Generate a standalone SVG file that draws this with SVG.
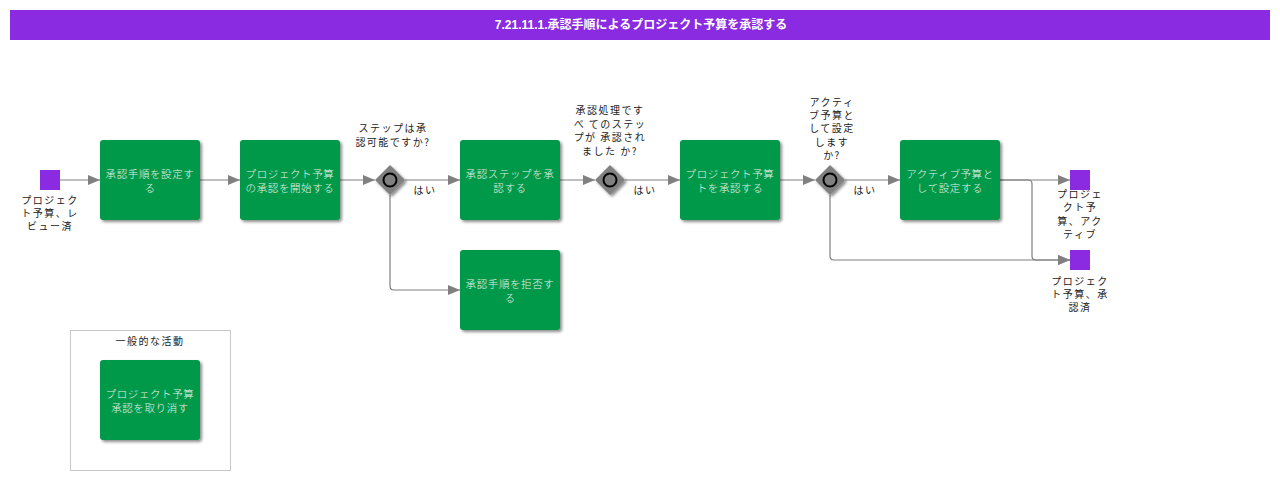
<svg xmlns="http://www.w3.org/2000/svg" width="1280" height="480" viewBox="0 0 1280 480">
<defs>
<filter id="sh" x="-20%" y="-20%" width="140%" height="140%">
<feGaussianBlur in="SourceAlpha" stdDeviation="1.5"/>
<feOffset dx="2" dy="2" result="b"/>
<feComponentTransfer><feFuncA type="linear" slope="0.45"/></feComponentTransfer>
<feMerge><feMergeNode/><feMergeNode in="SourceGraphic"/></feMerge>
</filter>
<marker id="arr" markerWidth="12" markerHeight="10" refX="12" refY="5" orient="auto" markerUnits="userSpaceOnUse">
<path d="M0,0 L12,5 L0,10 Z" fill="#808080"/>
</marker>
</defs>
<style>
.task rect{fill:#00984a;filter:url(#sh)}
.task text{fill:#e6f2e6;font-family:"Noto Sans CJK JP","Noto Sans",sans-serif;font-size:10.5px;font-weight:300;text-anchor:middle;letter-spacing:0.6px}
.gw path{fill:#808080;filter:url(#sh)}
.gw circle{fill:none;stroke:#000;stroke-width:2}
.lbl{fill:#222;font-family:"Noto Sans CJK JP","Noto Sans",sans-serif;font-size:10px;text-anchor:middle;letter-spacing:1.5px}
.ev rect{fill:#8a2be2}
.conn path{fill:none;stroke:#808080;stroke-width:1.2}
</style>
<g id="title">
<rect x="10" y="10" width="1260" height="30" fill="#8a2be2"/>
<text x="641" y="29" fill="#fff" font-family="Liberation Sans,'Noto Sans CJK JP',sans-serif" font-size="12" font-weight="bold" text-anchor="middle">7.21.11.1.承認手順によるプロジェクト予算を承認する</text>
</g>
<g id="connectors" class="conn">
<path d="M60,180 H100" marker-end="url(#arr)"/>
<path d="M200,180 H240" marker-end="url(#arr)"/>
<path d="M340,180 H375" marker-end="url(#arr)"/>
<path d="M405,180 H460" marker-end="url(#arr)"/>
<path d="M390,195 V286 Q390,290 394,290 H460" marker-end="url(#arr)"/>
<path d="M560,180 H595" marker-end="url(#arr)"/>
<path d="M625,180 H680" marker-end="url(#arr)"/>
<path d="M780,180 H815" marker-end="url(#arr)"/>
<path d="M845,180 H900" marker-end="url(#arr)"/>
<path d="M830,195 V256 Q830,260 834,260 H1070" marker-end="url(#arr)"/>
<path d="M1000,180 H1070" marker-end="url(#arr)"/>
<path d="M1000,180 H1028 Q1032,180 1032,184 V256 Q1032,260 1036,260 H1070" marker-end="url(#arr)"/>
</g>
<g id="start" class="ev">
<rect x="40" y="170" width="20" height="20"/>
<text class="lbl" x="50" y="204">プロジェク</text>
<text class="lbl" x="50" y="217">ト予算、レ</text>
<text class="lbl" x="50" y="230">ビュー済</text>
</g>
<g id="t1" class="task">
<rect x="100" y="140" width="100" height="80" rx="3"/>
<text x="150" y="178">承認手順を設定す</text>
<text x="150" y="192">る</text>
</g>
<g id="t2" class="task">
<rect x="240" y="140" width="100" height="80" rx="3"/>
<text x="290" y="178">プロジェクト予算</text>
<text x="290" y="192">の承認を開始する</text>
</g>
<g id="g1" class="gw">
<path d="M390,165 L405,180 L390,195 L375,180 Z"/>
<circle cx="390" cy="180" r="6.5"/>
<text class="lbl" x="393" y="132">ステップは承</text>
<text class="lbl" x="393" y="146">認可能ですか?</text>
<text class="lbl" x="425" y="194">はい</text>
</g>
<g id="t3" class="task">
<rect x="460" y="140" width="100" height="80" rx="3"/>
<text x="510" y="178">承認ステップを承</text>
<text x="510" y="192">認する</text>
</g>
<g id="t3r" class="task">
<rect x="460" y="250" width="100" height="80" rx="3"/>
<text x="510" y="288">承認手順を拒否す</text>
<text x="510" y="302">る</text>
</g>
<g id="g2" class="gw">
<path d="M610,165 L625,180 L610,195 L595,180 Z"/>
<circle cx="610" cy="180" r="6.5"/>
<text class="lbl" x="610" y="114">承認処理です</text>
<text class="lbl" x="610" y="128">べ てのステッ</text>
<text class="lbl" x="610" y="141">プが 承認され</text>
<text class="lbl" x="610" y="155">ました か?</text>
<text class="lbl" x="645" y="194">はい</text>
</g>
<g id="t4" class="task">
<rect x="680" y="140" width="100" height="80" rx="3"/>
<text x="730" y="178">プロジェクト予算</text>
<text x="730" y="192">トを承認する</text>
</g>
<g id="g3" class="gw">
<path d="M830,165 L845,180 L830,195 L815,180 Z"/>
<circle cx="830" cy="180" r="6.5"/>
<text class="lbl" x="832" y="106">アクティ</text>
<text class="lbl" x="832" y="119">ブ予算と</text>
<text class="lbl" x="832" y="132">して設定</text>
<text class="lbl" x="832" y="146">します</text>
<text class="lbl" x="832" y="159">か?</text>
<text class="lbl" x="865" y="194">はい</text>
</g>
<g id="t5" class="task">
<rect x="900" y="140" width="100" height="80" rx="3"/>
<text x="950" y="178">アクティブ予算と</text>
<text x="950" y="192">して設定する</text>
</g>
<g id="end1" class="ev">
<rect x="1070" y="170" width="20" height="20"/>
<text class="lbl" x="1080" y="198">プロジェ</text>
<text class="lbl" x="1080" y="211">クト予</text>
<text class="lbl" x="1080" y="225">算、アク</text>
<text class="lbl" x="1080" y="238">ティブ</text>
</g>
<g id="end2" class="ev">
<rect x="1070" y="250" width="20" height="20"/>
<text class="lbl" x="1080" y="285">プロジェク</text>
<text class="lbl" x="1080" y="298">ト予算、承</text>
<text class="lbl" x="1080" y="311">認済</text>
</g>
<g id="group">
<rect x="70.5" y="330.5" width="160" height="140" fill="none" stroke="#c8c8c8"/>
<text class="lbl" x="150" y="345" letter-spacing="0">一般的な活動</text>
</g>
<g id="t6" class="task">
<rect x="100" y="360" width="100" height="80" rx="3"/>
<text x="150" y="398">プロジェクト予算</text>
<text x="150" y="412">承認を取り消す</text>
</g>
</svg>
